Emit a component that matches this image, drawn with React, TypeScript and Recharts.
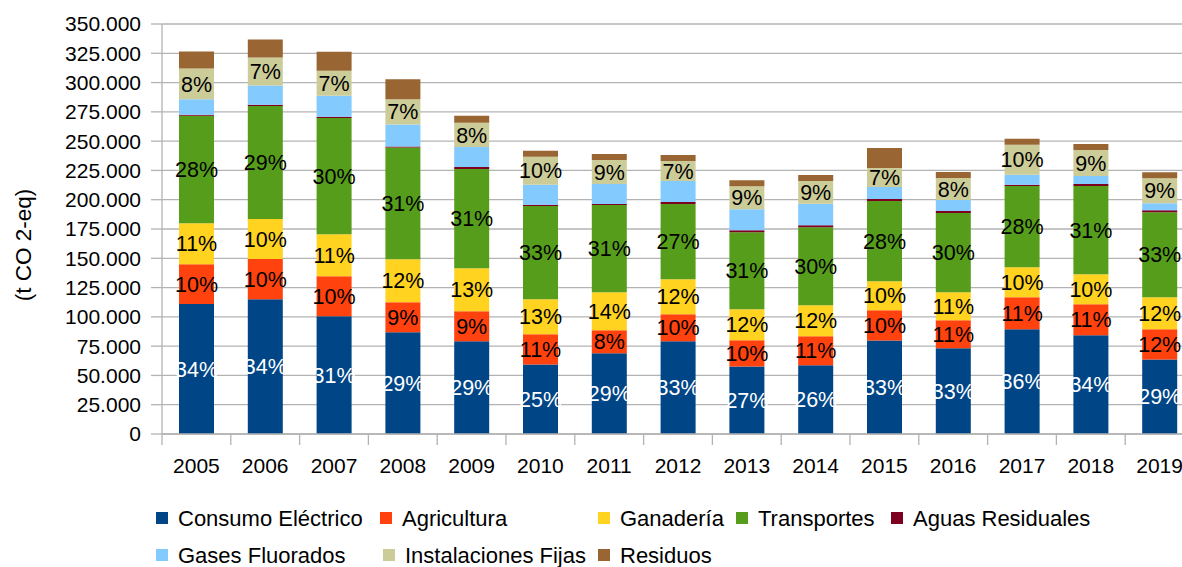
import React from 'react';
import { BarChart, Bar, XAxis, YAxis, CartesianGrid, LabelList } from 'recharts';

const years = ['2005', '2006', '2007', '2008', '2009', '2010', '2011', '2012', '2013', '2014', '2015', '2016', '2017', '2018', '2019'];

const consumo = [111000, 115000, 100500, 86800, 79100, 59400, 68900, 79100, 57700, 58600, 79900, 73100, 89400, 84300, 63700];
const agricultura = [34000, 34300, 34200, 25700, 25700, 25700, 19600, 23100, 22300, 24800, 25700, 24000, 27400, 26500, 25700];
const ganaderia = [35000, 34200, 35900, 36700, 36800, 29900, 32500, 29900, 26500, 26500, 24800, 23900, 25600, 25600, 27400];
const transportes = [91600, 96600, 99200, 95300, 84600, 79600, 74400, 64200, 65800, 66700, 68500, 67600, 69300, 75300, 72600];
const aguas = [1000, 1000, 1000, 1000, 1700, 1000, 1000, 1700, 1700, 1700, 1700, 1700, 1000, 1700, 1700];
const gases = [13100, 16400, 18000, 18800, 17100, 17100, 17100, 17900, 17900, 18300, 10200, 9400, 8600, 6800, 5900];
const instalaciones = [26300, 23900, 21300, 21400, 20600, 24000, 20500, 17100, 19700, 19400, 16300, 18800, 25600, 22300, 21400];
const residuos = [14500, 15400, 16300, 17100, 6000, 5100, 5100, 5100, 5100, 5100, 17100, 5100, 5200, 5100, 5100];

// percentage labels shown in the bars
const consumoPct = [34, 34, 31, 29, 29, 25, 29, 33, 27, 26, 33, 33, 36, 34, 29];
const agriculturaPct = [10, 10, 10, 9, 9, 11, 8, 10, 10, 11, 10, 11, 11, 11, 12];
const ganaderiaPct = [11, 10, 11, 12, 13, 13, 14, 12, 12, 12, 10, 11, 10, 10, 12];
const transportesPct = [28, 29, 30, 31, 31, 33, 31, 27, 31, 30, 28, 30, 28, 31, 33];
const instalacionesPct = [8, 7, 7, 7, 8, 10, 9, 7, 9, 9, 7, 8, 10, 9, 9];

const yTicks = [0, 25000, 50000, 75000, 100000, 125000, 150000, 175000, 200000, 225000, 250000, 275000, 300000, 325000, 350000];

const series = [
  { key: 'consumo', name: 'Consumo Eléctrico', color: '#004586', pct: 'consumoPct', labelColor: '#ffffff' },
  { key: 'agricultura', name: 'Agricultura', color: '#ff420e', pct: 'agriculturaPct', labelColor: '#000000' },
  { key: 'ganaderia', name: 'Ganadería', color: '#ffd320', pct: 'ganaderiaPct', labelColor: '#000000' },
  { key: 'transportes', name: 'Transportes', color: '#579d1c', pct: 'transportesPct', labelColor: '#000000' },
  { key: 'aguas', name: 'Aguas Residuales', color: '#7e0021', pct: null, labelColor: '#000000' },
  { key: 'gases', name: 'Gases Fluorados', color: '#83caff', pct: null, labelColor: '#000000' },
  { key: 'instalaciones', name: 'Instalaciones Fijas', color: '#cccc99', pct: 'instalacionesPct', labelColor: '#000000' },
  { key: 'residuos', name: 'Residuos', color: '#996633', pct: null, labelColor: '#000000' },
];

const data = years.map((year, i) => ({
  year,
  consumo: consumo[i],
  agricultura: agricultura[i],
  ganaderia: ganaderia[i],
  transportes: transportes[i],
  aguas: aguas[i],
  gases: gases[i],
  instalaciones: instalaciones[i],
  residuos: residuos[i],
  consumoPct: consumoPct[i],
  agriculturaPct: agriculturaPct[i],
  ganaderiaPct: ganaderiaPct[i],
  transportesPct: transportesPct[i],
  instalacionesPct: instalacionesPct[i],
}));

const FONT = "'Liberation Sans', Arial, sans-serif";
const GRID = '#b3b3b3';
const CHART_W = 1200;
const CHART_H = 567;
const MARGIN = { top: 24, right: 6, bottom: 73, left: 0 };
const Y_AXIS_W = 162;
const BAND = (CHART_W - MARGIN.left - MARGIN.right - Y_AXIS_W) / years.length;

const fmt = (v: number) => (v === 0 ? '0' : v.toLocaleString('de-DE'));

const XTick = (props: any) => {
  const { x, y, payload } = props;
  const bx = x - BAND / 2;
  return (
    <g>
      <line x1={bx} x2={bx} y1={y} y2={y + 11} stroke={GRID} strokeWidth={1.3} />
      <text x={x} y={y + 39} textAnchor="middle" fontSize={21} fontFamily={FONT} fill="#000">
        {payload.value}
      </text>
    </g>
  );
};

// legend layout: two rows
const legendRows = [
  ['consumo', 'agricultura', 'ganaderia', 'transportes', 'aguas'],
  ['gases', 'instalaciones', 'residuos'],
];
const legendColX = [[156, 380, 598, 736, 891], [156, 383, 598]];
const legendRowY = [512, 549];

export default function App() {
  return (
    <div style={{ position: 'absolute', left: 0, top: 0, width: 1182, height: 567, overflow: 'hidden', background: '#fff', fontFamily: FONT }}>
      <BarChart width={CHART_W} height={CHART_H} data={data} margin={MARGIN} barSize={35}>
        <CartesianGrid vertical={false} stroke={GRID} strokeWidth={1.3} />
        <XAxis
          dataKey="year"
          axisLine={{ stroke: GRID, strokeWidth: 1.3 }}
          tickLine={false}
          tickSize={0}
          tickMargin={0}
          height={60}
          tick={<XTick />}
          interval={0}
        />
        <YAxis
          width={Y_AXIS_W}
          domain={[0, 350000]}
          ticks={yTicks}
          interval={0}
          tickFormatter={fmt}
          axisLine={{ stroke: GRID, strokeWidth: 1.3 }}
          tickLine={{ stroke: GRID, strokeWidth: 1.3 }}
          tickSize={11}
          tickMargin={10}
          tick={{ fill: '#000', fontSize: 21, fontFamily: FONT }}
        />
        {series.map((s) => (
          <Bar key={s.key} dataKey={s.key} name={s.name} stackId="a" fill={s.color} isAnimationActive={false}>
            {s.pct && (
              <LabelList
                dataKey={s.pct}
                position="center"
                formatter={(v: any) => `${v}%`}
                fill={s.labelColor}
                stroke="none"
                fontSize={21.5}
                fontFamily={FONT}
              />
            )}
          </Bar>
        ))}
      </BarChart>
      <svg width={1182} height={567} style={{ position: 'absolute', left: 0, top: 0, pointerEvents: 'none' }}>
        <text
          x={0}
          y={0}
          transform="translate(31 245) rotate(-90)"
          textAnchor="middle"
          fontSize={22.5}
          fontFamily={FONT}
          fill="#000"
        >
          (t CO 2-eq)
        </text>
        {legendRows.map((row, r) =>
          row.map((key, c) => {
            const s = series.find((q) => q.key === key)!;
            const x = legendColX[r][c];
            const y = legendRowY[r];
            return (
              <g key={key}>
                <rect x={x} y={y} width={12} height={12} fill={s.color} />
                <text x={x + 22} y={y + 14} fontSize={22} fontFamily={FONT} fill="#000">
                  {s.name}
                </text>
              </g>
            );
          })
        )}
      </svg>
    </div>
  );
}
